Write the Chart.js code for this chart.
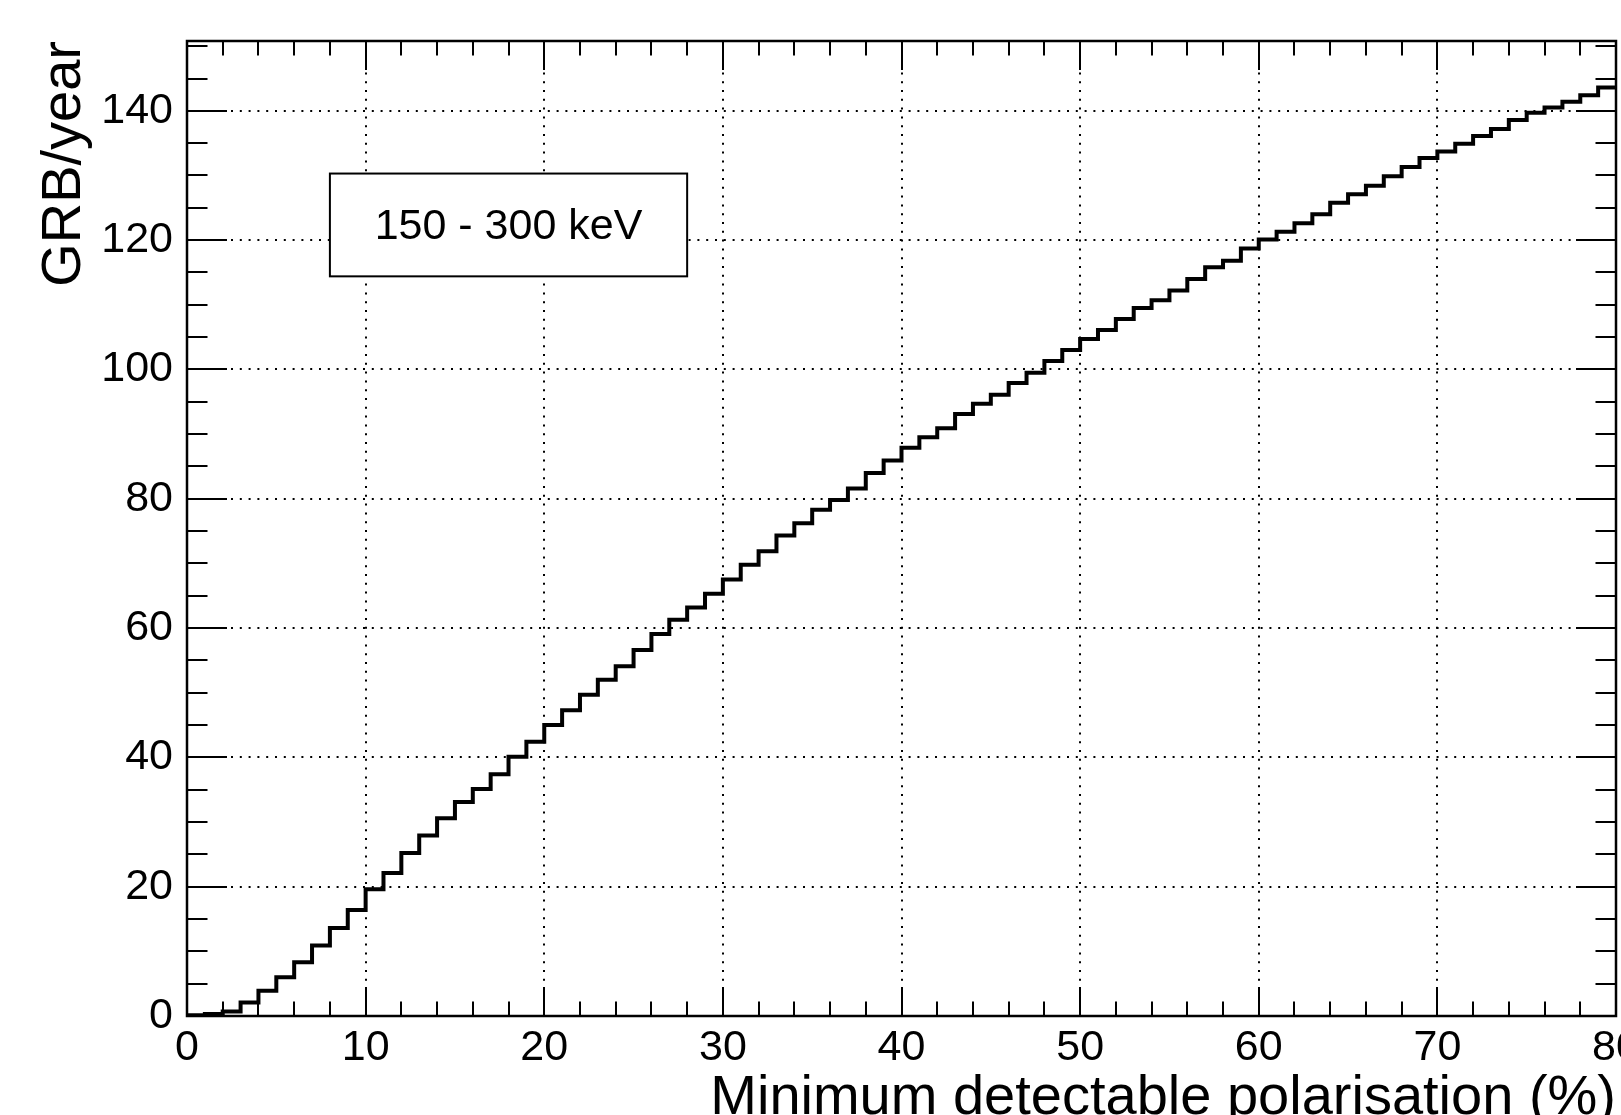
<!DOCTYPE html>
<html>
<head>
<meta charset="utf-8">
<script src="https://cdn.jsdelivr.net/npm/chart.js@4.4.1/dist/chart.umd.min.js"></script>
<style>
  html, body { margin: 0; padding: 0; background: #fff; }
  #wrap { width: 1621px; height: 1115px; }
</style>
</head>
<body>
<div id="wrap"><canvas id="c"></canvas></div>
<script>
// lower edges of the 1% bins, plus the upper edge of the last one
const binEdges = [
  0, 1, 2, 3, 4, 5, 6, 7, 8, 9,
  10, 11, 12, 13, 14, 15, 16, 17, 18, 19,
  20, 21, 22, 23, 24, 25, 26, 27, 28, 29,
  30, 31, 32, 33, 34, 35, 36, 37, 38, 39,
  40, 41, 42, 43, 44, 45, 46, 47, 48, 49,
  50, 51, 52, 53, 54, 55, 56, 57, 58, 59,
  60, 61, 62, 63, 64, 65, 66, 67, 68, 69,
  70, 71, 72, 73, 74, 75, 76, 77, 78, 79,
  80
];

// cumulative GRB rate per year for MDP below the bin edge
const grbPerYear = [
  0.1, 0.3, 0.7, 2.1, 3.9, 6.0, 8.3, 10.9, 13.6, 16.4,
  19.6, 22.1, 25.2, 27.9, 30.6, 33.1, 35.1, 37.4, 40.1, 42.4,
  45.0, 47.3, 49.7, 52.0, 54.1, 56.6, 59.1, 61.3, 63.2, 65.3,
  67.5, 69.8, 71.9, 74.3, 76.2, 78.3, 79.8, 81.6, 84.0, 85.9,
  87.9, 89.5, 90.9, 93.1, 94.7, 96.1, 97.9, 99.5, 101.3, 103.0,
  104.7, 106.1, 107.8, 109.5, 110.7, 112.2, 114.0, 115.8, 116.8, 118.7,
  120.1, 121.3, 122.6, 124.0, 125.8, 127.1, 128.4, 129.9, 131.3, 132.7,
  133.7, 134.9, 136.1, 137.2, 138.6, 139.7, 140.5, 141.4, 142.4, 143.6
];

const xTickValues = [0, 10, 20, 30, 40, 50, 60, 70, 80];
const yTickValues = [0, 20, 40, 60, 80, 100, 120, 140];
const xMinorStep = 2;
const yMinorStep = 5;
const yMax = 150.8;

// energy band label, box corners in axis units
const bandLabel = '150 - 300 keV';
const bandBox = { x0: 8, x1: 28, y0: 114.4, y1: 130.3 };

const FONT = 'Liberation Sans, Arial, Helvetica, sans-serif';

// step points: each bin value held from its lower edge to the next edge
const histPoints = binEdges.map(function (x, i) {
  return { x: x, y: grbPerYear[Math.min(i, grbPerYear.length - 1)] };
});

// dotted grid, label box, inward ticks on all four sides and the frame
const rootFrame = {
  id: 'rootFrame',
  beforeDatasetsDraw(chart) {
    const { ctx, chartArea: a, scales: { x, y } } = chart;
    ctx.save();
    ctx.strokeStyle = '#000';
    ctx.lineWidth = 2;
    ctx.setLineDash([2, 6.8]);
    ctx.beginPath();
    xTickValues.forEach(function (v) {
      const px = Math.round(x.getPixelForValue(v));
      ctx.moveTo(px, a.bottom);
      ctx.lineTo(px, a.top);
    });
    yTickValues.forEach(function (v) {
      const py = Math.round(y.getPixelForValue(v));
      ctx.moveTo(a.left, py);
      ctx.lineTo(a.right, py);
    });
    ctx.stroke();
    ctx.restore();
  },
  afterDatasetsDraw(chart) {
    const { ctx, chartArea: a, scales: { x, y } } = chart;
    ctx.save();

    // label box
    const bx0 = x.getPixelForValue(bandBox.x0);
    const bx1 = x.getPixelForValue(bandBox.x1);
    const by0 = y.getPixelForValue(bandBox.y1);
    const by1 = y.getPixelForValue(bandBox.y0);
    ctx.fillStyle = '#fff';
    ctx.fillRect(bx0, by0, bx1 - bx0, by1 - by0);
    ctx.strokeStyle = '#000';
    ctx.lineWidth = 2;
    ctx.strokeRect(bx0, by0, bx1 - bx0, by1 - by0);
    ctx.fillStyle = '#000';
    ctx.font = '43px ' + FONT;
    ctx.textAlign = 'center';
    ctx.textBaseline = 'middle';
    ctx.fillText(bandLabel, (bx0 + bx1) / 2, (by0 + by1) / 2 + 2);

    // ticks
    ctx.lineWidth = 2;
    ctx.beginPath();
    for (let v = x.min; v <= x.max + 1e-6; v += xMinorStep) {
      const px = Math.round(x.getPixelForValue(v));
      const len = xTickValues.indexOf(v) >= 0 ? 29 : 14.5;
      ctx.moveTo(px, a.bottom);
      ctx.lineTo(px, a.bottom - len);
      ctx.moveTo(px, a.top);
      ctx.lineTo(px, a.top + len);
    }
    for (let v = 0; v <= yMax + 1e-6; v += yMinorStep) {
      const py = Math.round(y.getPixelForValue(v));
      const len = yTickValues.indexOf(v) >= 0 ? 40 : 20.5;
      ctx.moveTo(a.left, py);
      ctx.lineTo(a.left + len, py);
      ctx.moveTo(a.right, py);
      ctx.lineTo(a.right - len, py);
    }
    ctx.stroke();

    // frame
    ctx.lineWidth = 2.5;
    ctx.strokeRect(a.left, a.top, a.right - a.left, a.bottom - a.top);
    ctx.restore();
  }
};

const ctx = document.getElementById('c').getContext('2d');
const chart = new Chart(ctx, {
  type: 'line',
  data: {
    datasets: [{
      label: bandLabel,
      data: histPoints,
      borderColor: '#000',
      borderWidth: 4,
      stepped: 'before',
      fill: false,
      pointRadius: 0,
      tension: 0
    }]
  },
  options: {
    responsive: true,
    maintainAspectRatio: false,
    animation: false,
    layout: { padding: { top: 41, right: 5, left: 0, bottom: 0 }, autoPadding: false },
    plugins: {
      legend: { display: false },
      tooltip: { enabled: false }
    },
    scales: {
      x: {
        type: 'linear',
        min: 0,
        max: 80,
        grid: { display: false, drawTicks: false },
        border: { display: false },
        ticks: {
          stepSize: 10,
          padding: 6.6,
          color: '#000',
          maxRotation: 0,
          autoSkip: false,
          font: { family: FONT, size: 43 }
        },
        title: {
          display: true,
          text: 'Minimum detectable polarisation (%)',
          align: 'end',
          color: '#000',
          font: { family: FONT, size: 56, lineHeight: 0.5 },
          padding: { top: 0, bottom: 2.4 }
        },
        afterBuildTicks(s) { s.ticks = xTickValues.map(function (v) { return { value: v }; }); },
        afterFit(s) { s.height = 99; s.paddingLeft = 0; s.paddingRight = 0; }
      },
      y: {
        type: 'linear',
        min: 0,
        max: yMax,
        grid: { display: false, drawTicks: false },
        border: { display: false },
        ticks: {
          stepSize: 20,
          includeBounds: false,
          padding: 14,
          color: '#000',
          font: { family: FONT, size: 43 }
        },
        title: {
          display: true,
          text: 'GRB/year',
          align: 'end',
          color: '#000',
          font: { family: FONT, size: 56, lineHeight: 1 },
          padding: { top: 36.6, bottom: 0 }
        },
        afterBuildTicks(s) { s.ticks = yTickValues.map(function (v) { return { value: v }; }); },
        afterFit(s) { s.width = 187; s.paddingTop = 0; s.paddingBottom = 0; }
      }
    }
  },
  plugins: [rootFrame]
});
</script>
</body>
</html>
